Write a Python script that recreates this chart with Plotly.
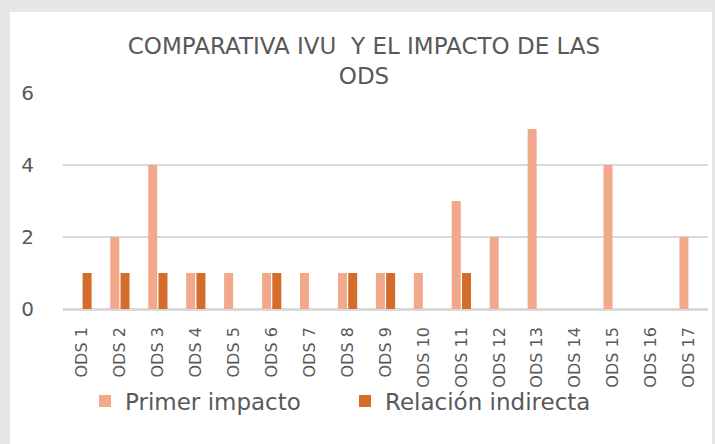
import plotly.graph_objects as go

categories = ["ODS 1", "ODS 2", "ODS 3", "ODS 4", "ODS 5", "ODS 6", "ODS 7", "ODS 8", "ODS 9",
              "ODS 10", "ODS 11", "ODS 12", "ODS 13", "ODS 14", "ODS 15", "ODS 16", "ODS 17"]
primer_impacto = [0, 2, 4, 1, 1, 1, 1, 1, 1, 1, 3, 2, 5, 0, 4, 0, 2]
relacion_indirecta = [1, 1, 1, 1, 0, 1, 0, 1, 1, 0, 1, 0, 0, 0, 0, 0, 0]
y_ticks = [0, 2, 4, 6]

title_text = "COMPARATIVA IVU\u00a0 Y EL IMPACTO DE LAS<br>ODS"
FONT = "DejaVu Sans"
GRAY_TXT = "#595959"

fig = go.Figure()
fig.add_trace(go.Bar(name="Primer impacto", x=categories, y=primer_impacto,
                     marker=dict(color="#F2A88A", line=dict(width=0))))
fig.add_trace(go.Bar(name="Relación indirecta", x=categories, y=relacion_indirecta,
                     marker=dict(color="#D46C2B", line=dict(width=0))))

L, R, T, B = 63, 7, 93, 135
W, H = 715, 444
pw, ph = W - L - R, H - T - B

def px_x(x):
    return (x - L) / pw

def px_y(y):
    return (H - B - y) / ph

fig.update_layout(
    width=W, height=H,
    margin=dict(l=L, r=R, t=T, b=B, autoexpand=False),
    paper_bgcolor="#E6E7E9",
    plot_bgcolor="rgba(0,0,0,0)",
    barmode="group", bargap=0.46, bargroupgap=0.12,
    font=dict(family=FONT, color=GRAY_TXT),
    title=dict(text=title_text, x=364 / W, xanchor="center", xref="container",
               y=1 - 54 / H, yanchor="top", yref="container",
               font=dict(family=FONT, size=23, color=GRAY_TXT)),
    shapes=[dict(type="rect", xref="paper", yref="paper",
                 x0=px_x(10), x1=px_x(712), y0=px_y(470), y1=px_y(12),
                 fillcolor="white", line=dict(width=0), layer="below")],
    legend=dict(orientation="h", x=px_x(85), xanchor="left", y=px_y(401), yanchor="middle",
                font=dict(family=FONT, size=23, color=GRAY_TXT),
                bgcolor="rgba(0,0,0,0)", entrywidth=215, entrywidthmode="pixels",
                traceorder="normal"),
    showlegend=True,
)
fig.update_yaxes(range=[0, 6], tickvals=y_ticks, showgrid=True, gridcolor="#D9D9D9", gridwidth=1.5,
                 zeroline=True, zerolinecolor="#D9D9D9", zerolinewidth=1.5,
                 showline=False, ticks="", ticklabelstandoff=28, automargin=False,
                 tickfont=dict(family=FONT, size=20, color=GRAY_TXT), fixedrange=True)
fig.update_xaxes(tickangle=-90, showgrid=False, showline=True, linecolor="#D9D9D9", linewidth=1.5,
                 ticks="", ticklabelstandoff=10, automargin=False,
                 tickfont=dict(family=FONT, size=16, color=GRAY_TXT), fixedrange=True)

fig.write_html("out.html", config={"displayModeBar": False},
               post_script="document.body.style.margin='0';document.body.style.padding='0';")
